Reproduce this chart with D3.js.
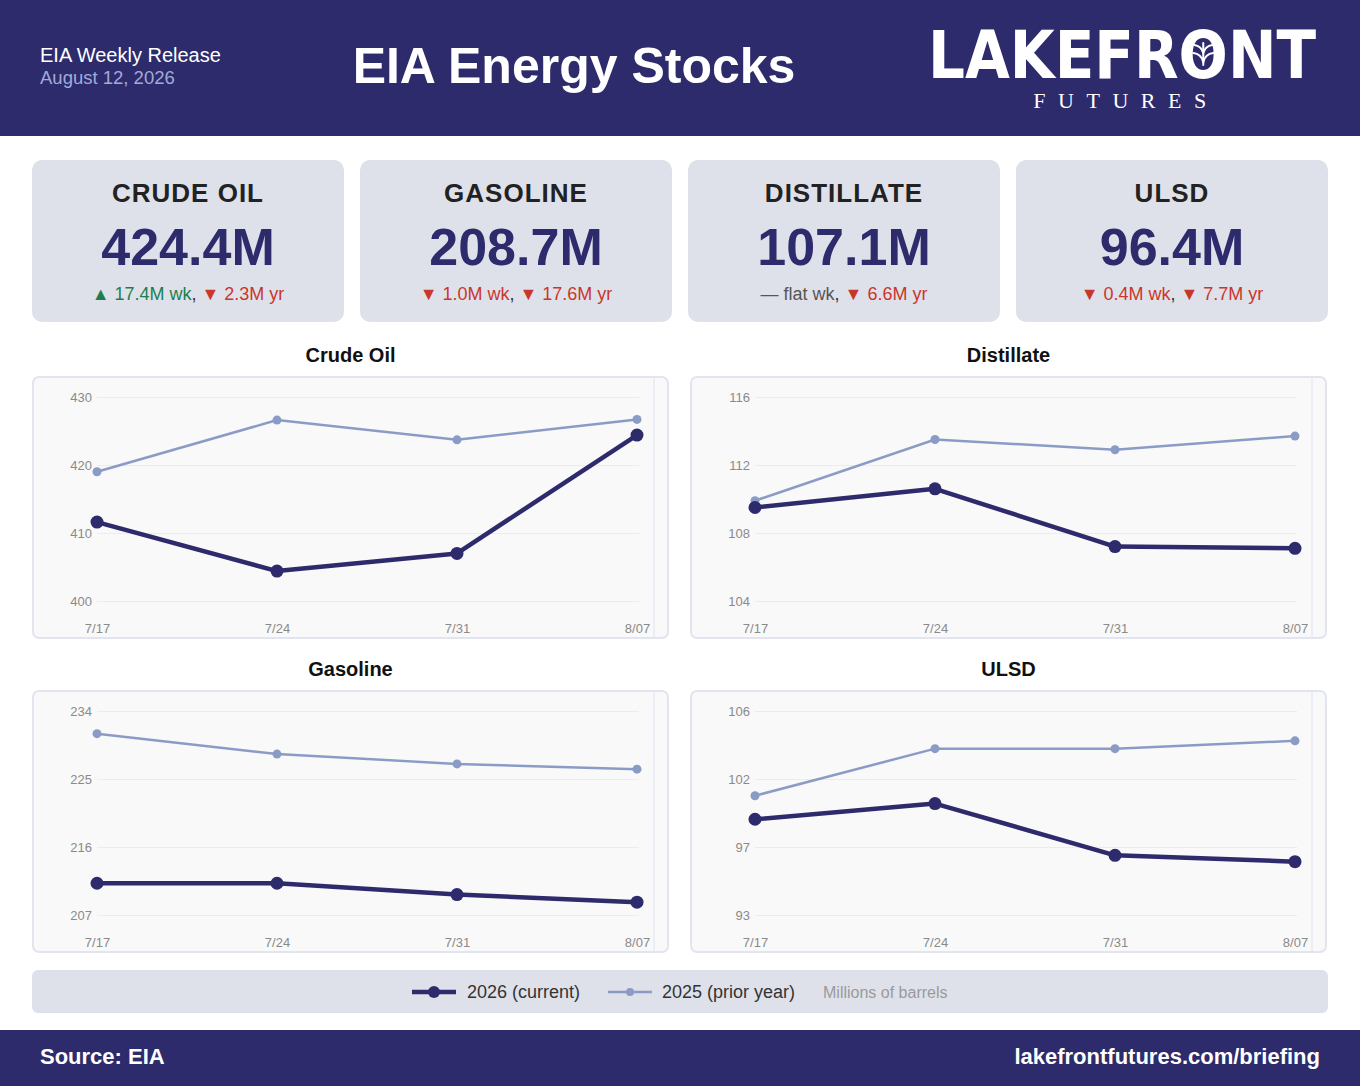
<!DOCTYPE html>
<html lang="en">
<head>
<meta charset="UTF-8">
<title>EIA Energy Stocks</title>
<script src="https://d3js.org/d3.v7.min.js"></script>
<style>
  body { margin: 0; background: #fff; }
  svg { display: block; font-family: "Liberation Sans", Arial, sans-serif; }
  .tick text { fill: #8a8a8a; font-size: 13px; }
  .grid line { stroke: #ececec; }
</style>
</head>
<body>
<svg id="chart" width="1360" height="1086"></svg>
<script>
// weeks shown on every panel
const weeks = ["7/17", "7/24", "7/31", "8/07"];

// stocks, millions of barrels
const crudeCurrent = [411.6, 404.4, 407.0, 424.4];
const crudePrior   = [419.0, 426.6, 423.7, 426.7];
const distCurrent  = [109.5, 110.6, 107.2, 107.1];
const distPrior    = [109.9, 113.5, 112.9, 113.7];
const gasCurrent   = [211.2, 211.2, 209.7, 208.7];
const gasPrior     = [231.0, 228.3, 227.0, 226.3];
const ulsdCurrent  = [99.1, 100.1, 96.8, 96.4];
const ulsdPrior    = [100.6, 103.6, 103.6, 104.1];

// y ranges for each panel
const crudeDomain = [400, 430];
const distDomain  = [104, 116];
const gasDomain   = [207, 234];
const ulsdDomain  = [93, 106];

// KPI cards
const kpiNames  = ["CRUDE OIL", "GASOLINE", "DISTILLATE", "ULSD"];
const kpiValues = ["424.4M", "208.7M", "107.1M", "96.4M"];
const kpiWeek   = [["up", "17.4M wk"], ["down", "1.0M wk"], ["flat", "flat wk"], ["down", "0.4M wk"]];
const kpiYear   = [["down", "2.3M yr"], ["down", "17.6M yr"], ["down", "6.6M yr"], ["down", "7.7M yr"]];

const navy = "#2d2b6c";
const prior = "#8a9bc6";
const cardBg = "#dfe1ea";

const svg = d3.select("#chart");

// ---- header ----
svg.append("rect").attr("x", 0).attr("y", 0).attr("width", 1360).attr("height", 136).attr("fill", navy);
svg.append("text").attr("x", 40).attr("y", 62).attr("fill", "#fff").attr("font-size", 20)
  .text("EIA Weekly Release");
svg.append("text").attr("x", 40).attr("y", 84).attr("fill", "#a3aad8").attr("font-size", 18.5)
  .text("August 12, 2026");
svg.append("text").attr("x", 574).attr("y", 83).attr("text-anchor", "middle").attr("fill", "#fff")
  .attr("font-size", 50).attr("font-weight", "bold").text("EIA Energy Stocks");

// logo
const logo = svg.append("text").attr("x", 928).attr("y", 78).attr("fill", "#fff")
  .attr("font-size", 66).attr("font-weight", "bold")
  .attr("font-family", "'DejaVu Sans', sans-serif")
  .attr("textLength", 388).attr("lengthAdjust", "spacingAndGlyphs")
  .text("LAKEFRONT");
svg.append("text").attr("x", 1126).attr("y", 108).attr("text-anchor", "middle").attr("fill", "#fff")
  .attr("font-size", 22).attr("font-family", "'Liberation Serif', serif")
  .attr("letter-spacing", 12.5).text("FUTURES");

// leaf inside the O
try {
  const box = logo.node().getExtentOfChar(6);
  const cx = box.x + box.width / 2, cy = 54;
  const s = 10;
  const leaf = svg.append("g").attr("stroke", "#fff").attr("fill", "none").attr("stroke-width", 2)
    .attr("stroke-linecap", "round");
  leaf.append("path").attr("d", `M${cx},${cy - s * 1.1}L${cx},${cy + s * 1.1}`);
  leaf.append("path").attr("d", `M${cx},${cy - s * 0.1}Q${cx - s * 0.2},${cy - s * 0.8} ${cx - s * 0.9},${cy - s * 0.9}`);
  leaf.append("path").attr("d", `M${cx},${cy - s * 0.1}Q${cx + s * 0.2},${cy - s * 0.8} ${cx + s * 0.9},${cy - s * 0.9}`);
  leaf.append("path").attr("d", `M${cx},${cy + s * 0.8}Q${cx - s * 0.2},${cy} ${cx - s},${cy - s * 0.1}`);
  leaf.append("path").attr("d", `M${cx},${cy + s * 0.8}Q${cx + s * 0.2},${cy} ${cx + s},${cy - s * 0.1}`);
} catch (e) { console.error(e); }

// ---- KPI cards ----
const arrow = { up: "\u25B2 ", down: "\u25BC ", flat: "\u2014 " };
const tone = { up: "#1d7f4e", down: "#c9372c", flat: "#555" };

kpiNames.forEach((name, i) => {
  const x = 32 + i * 328;
  const g = svg.append("g").attr("transform", `translate(${x},160)`);
  g.append("rect").attr("width", 312).attr("height", 162).attr("rx", 10).attr("fill", cardBg);
  g.append("text").attr("x", 156).attr("y", 42).attr("text-anchor", "middle").attr("fill", "#222")
    .attr("font-size", 26).attr("font-weight", "bold").attr("letter-spacing", 1).text(name);
  g.append("text").attr("x", 156).attr("y", 105).attr("text-anchor", "middle").attr("fill", navy)
    .attr("font-size", 52).attr("font-weight", "bold").text(kpiValues[i]);
  const t = g.append("text").attr("x", 156).attr("y", 140).attr("text-anchor", "middle").attr("font-size", 18);
  const [wd, wt] = kpiWeek[i], [yd, yt] = kpiYear[i];
  t.append("tspan").attr("fill", tone[wd]).text(arrow[wd] + wt);
  t.append("tspan").attr("fill", "#333").text(", ");
  t.append("tspan").attr("fill", tone[yd]).text(arrow[yd] + yt);
});

// ---- small multiples ----
function panel(px, py, title, current, last, domain) {
  const w = 635, h = 261;
  svg.append("text").attr("x", px + w / 2).attr("y", py - 15).attr("text-anchor", "middle")
    .attr("font-size", 20).attr("font-weight", "bold").attr("fill", "#111").text(title);
  svg.append("rect").attr("x", px).attr("y", py).attr("width", w).attr("height", h).attr("rx", 6)
    .attr("fill", "#f9f9f9").attr("stroke", "#e2e4f0").attr("stroke-width", 2);
  svg.append("line").attr("x1", px + 621).attr("x2", px + 621).attr("y1", py + 1).attr("y2", py + h - 1)
    .attr("stroke", "#e7e9f3").attr("stroke-width", 1.5);

  const x = d3.scalePoint().domain(weeks).range([px + 64, px + 604]);
  const y = d3.scaleLinear().domain(domain).range([py + 224, py + 20]);
  const ticks = d3.range(4).map(k => domain[0] + k * (domain[1] - domain[0]) / 3);

  const ya = svg.append("g").attr("class", "grid").attr("transform", `translate(${px + 64},0)`)
    .call(d3.axisLeft(y).tickValues(ticks).tickFormat(d3.format(".0f"))
      .tickSizeInner(-542).tickSizeOuter(0).tickPadding(5));
  ya.select(".domain").remove();
  ya.selectAll("text").attr("font-family", "'Liberation Sans', Arial, sans-serif");

  const xa = svg.append("g").attr("transform", `translate(0,${py + 256})`)
    .call(d3.axisBottom(x).tickSize(0).tickPadding(0));
  xa.select(".domain").remove();
  xa.selectAll("text").attr("dy", 0).attr("font-family", "'Liberation Sans', Arial, sans-serif");

  const line = d3.line().x((d, i) => x(weeks[i])).y(d => y(d));

  svg.append("path").datum(last).attr("d", line).attr("fill", "none")
    .attr("stroke", prior).attr("stroke-width", 2.5);
  svg.append("g").selectAll("circle").data(last).join("circle")
    .attr("cx", (d, i) => x(weeks[i])).attr("cy", d => y(d)).attr("r", 4.5).attr("fill", prior);

  svg.append("path").datum(current).attr("d", line).attr("fill", "none")
    .attr("stroke", navy).attr("stroke-width", 4.5).attr("stroke-linejoin", "round");
  svg.append("g").selectAll("circle").data(current).join("circle")
    .attr("cx", (d, i) => x(weeks[i])).attr("cy", d => y(d)).attr("r", 6.5).attr("fill", navy);
}

panel(33, 377, "Crude Oil", crudeCurrent, crudePrior, crudeDomain);
panel(691, 377, "Distillate", distCurrent, distPrior, distDomain);
panel(33, 691, "Gasoline", gasCurrent, gasPrior, gasDomain);
panel(691, 691, "ULSD", ulsdCurrent, ulsdPrior, ulsdDomain);

// ---- legend ----
svg.append("rect").attr("x", 32).attr("y", 970).attr("width", 1296).attr("height", 43).attr("rx", 6).attr("fill", cardBg);
const lg = svg.append("g").attr("transform", "translate(0,992)");
lg.append("line").attr("x1", 412).attr("x2", 456).attr("stroke", navy).attr("stroke-width", 4.5);
lg.append("circle").attr("cx", 434).attr("r", 6).attr("fill", navy);
lg.append("text").attr("x", 467).attr("y", 6).attr("font-size", 18).attr("fill", "#333").text("2026 (current)");
lg.append("line").attr("x1", 608).attr("x2", 652).attr("stroke", prior).attr("stroke-width", 2.5);
lg.append("circle").attr("cx", 630).attr("r", 4).attr("fill", prior);
lg.append("text").attr("x", 662).attr("y", 6).attr("font-size", 18).attr("fill", "#333").text("2025 (prior year)");
lg.append("text").attr("x", 823).attr("y", 6).attr("font-size", 16).attr("fill", "#9a9a9a").text("Millions of barrels");

// ---- footer ----
svg.append("rect").attr("x", 0).attr("y", 1030).attr("width", 1360).attr("height", 56).attr("fill", navy);
svg.append("text").attr("x", 40).attr("y", 1064).attr("fill", "#fff").attr("font-size", 22)
  .attr("font-weight", "bold").text("Source: EIA");
svg.append("text").attr("x", 1320).attr("y", 1064).attr("text-anchor", "end").attr("fill", "#fff")
  .attr("font-size", 22).attr("font-weight", "bold").text("lakefrontfutures.com/briefing");
</script>
</body>
</html>
